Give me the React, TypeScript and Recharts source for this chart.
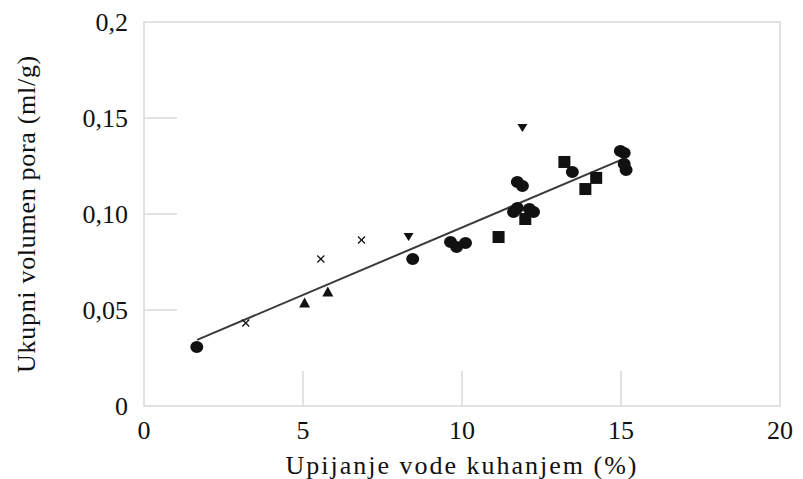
import { ScatterChart, Scatter, XAxis, YAxis, ReferenceArea, Label } from "recharts";

// axis ticks
const xTicks = [0, 5, 10, 15, 20];
const yTicks = [0, 0.05, 0.1, 0.15, 0.2];
const yTickLabels = ["0", "0,05", "0,10", "0,15", "0,2"];

// point groups, [water uptake %, pore volume ml/g]
const circlePts = [
  [1.66, 0.0307],
  [8.45, 0.0766],
  [9.64, 0.0854],
  [9.83, 0.0828],
  [10.11, 0.0849],
  [11.74, 0.1167],
  [11.9, 0.1146],
  [11.62, 0.101],
  [11.74, 0.1031],
  [12.12, 0.1026],
  [12.25, 0.101],
  [13.47, 0.1219],
  [14.98, 0.1328],
  [15.1, 0.1318],
  [15.1, 0.126],
  [15.16, 0.1229],
];
const squarePts = [
  [11.15, 0.088],
  [11.99, 0.0974],
  [13.22, 0.1271],
  [13.88, 0.113],
  [14.22, 0.1188],
];
const triUpPts = [
  [5.05, 0.0536],
  [5.78, 0.0594],
];
const triDownPts = [
  [8.32, 0.088],
  [11.9, 0.1448],
];
const crossPts = [
  [3.2, 0.0432],
  [5.56, 0.0766],
  [6.84, 0.0865],
];
// linear trend end points
const trendPts = [
  [1.67, 0.0344],
  [15.06, 0.1286],
];

const toData = (pts: number[][]) => pts.map(([x, y]) => ({ x, y }));

const FONT = "Times New Roman, Liberation Serif, DejaVu Serif, serif";
const GRID = "#d9d9d9";
const INK = "#111";

const CircleDot = ({ cx, cy }: any) => <ellipse cx={cx} cy={cy} rx={6.5} ry={6} fill={INK} />;
const SquareDot = ({ cx, cy }: any) => <rect x={cx - 6} y={cy - 6} width={12} height={12} fill={INK} />;
const TriUp = ({ cx, cy }: any) => (
  <path d={`M${cx},${cy - 5.5} L${cx + 5.5},${cy + 4.5} L${cx - 5.5},${cy + 4.5} Z`} fill={INK} />
);
const TriDown = ({ cx, cy }: any) => (
  <path d={`M${cx - 5},${cy - 4} L${cx + 5},${cy - 4} L${cx},${cy + 4} Z`} fill={INK} />
);
const Cross = ({ cx, cy }: any) => (
  <g stroke={INK} strokeWidth={1.3}>
    <line x1={cx - 3.5} y1={cy - 3.5} x2={cx + 3.5} y2={cy + 3.5} />
    <line x1={cx - 3.5} y1={cy + 3.5} x2={cx + 3.5} y2={cy - 3.5} />
  </g>
);

const XTick = ({ x, y, payload }: any) => (
  <g>
    {payload.value > 0 && payload.value < 20 && (
      <line x1={x} x2={x} y1={y} y2={y - 35} stroke={GRID} strokeWidth={1.5} />
    )}
    <text x={x} y={y + 24} textAnchor="middle" dominantBaseline="central" style={{ fontFamily: FONT, fontSize: 26 }} fill={INK}>
      {payload.value}
    </text>
  </g>
);

const YTick = ({ x, y, payload, index }: any) => (
  <g>
    {payload.value > 0 && payload.value < 0.2 && (
      <line x1={x} x2={x + 33} y1={y} y2={y} stroke={GRID} strokeWidth={1.5} />
    )}
    <text x={x - 16} y={y} textAnchor="end" dominantBaseline="central" style={{ fontFamily: FONT, fontSize: 26 }} fill={INK}>
      {yTickLabels[index]}
    </text>
  </g>
);

export default function App() {
  return (
    <ScatterChart width={795} height={471} margin={{ top: 14, right: 23, bottom: 0, left: 0 }}>
      <XAxis
        type="number"
        dataKey="x"
        domain={[0, 20]}
        ticks={xTicks}
        axisLine={false}
        tickLine={false}
        tickSize={0}
        tickMargin={0}
        height={73}
        tick={XTick}
        interval={0}
      >
        <Label
          value="Upijanje vode kuhanjem (%)"
          position="insideBottom"
          offset={5}
          style={{ fontFamily: FONT, fontSize: 26, fill: INK, letterSpacing: 2 }}
        />
      </XAxis>
      <YAxis
        type="number"
        dataKey="y"
        domain={[0, 0.2]}
        ticks={yTicks}
        axisLine={false}
        tickLine={false}
        tickSize={0}
        tickMargin={0}
        width={136}
        tick={YTick}
        interval={0}
      >
        <Label
          value="Ukupni volumen pora (ml/g)"
          angle={-90}
          position="insideLeft"
          offset={18}
          style={{ fontFamily: FONT, fontSize: 26, fill: INK, textAnchor: "middle", letterSpacing: 0.7 }}
        />
      </YAxis>
      <ReferenceArea x1={0} x2={20} y1={0} y2={0.2} fill="none" stroke={GRID} strokeWidth={1.5} />
      <Scatter
        data={toData(trendPts)}
        line={{ stroke: "#3a3a3a", strokeWidth: 2 }}
        shape={() => <g />}
        isAnimationActive={false}
      />
      <Scatter data={toData(crossPts)} shape={Cross} isAnimationActive={false} />
      <Scatter data={toData(triUpPts)} shape={TriUp} isAnimationActive={false} />
      <Scatter data={toData(triDownPts)} shape={TriDown} isAnimationActive={false} />
      <Scatter data={toData(squarePts)} shape={SquareDot} isAnimationActive={false} />
      <Scatter data={toData(circlePts)} shape={CircleDot} isAnimationActive={false} />
    </ScatterChart>
  );
}
